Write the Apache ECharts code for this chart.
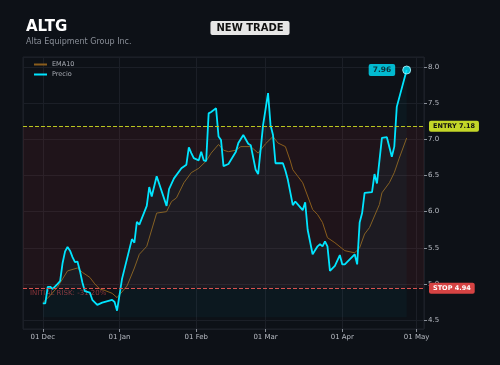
<!DOCTYPE html>
<html>
<head>
<meta charset="utf-8">
<script src="https://cdn.jsdelivr.net/npm/echarts@6/dist/echarts.min.js"></script>
<style>
  html, body { margin: 0; padding: 0; background: #0d1117; }
  #chart { width: 500px; height: 365px; }
</style>
</head>
<body>
<div id="chart"></div>
<script>
// datos
var ticker = 'ALTG';
var company = 'Alta Equipment Group Inc.';
var ENTRY = 7.18;
var STOP = 4.94;

var priceDates = [
  '2025-12-01','2025-12-02','2025-12-03','2025-12-04','2025-12-05','2025-12-07','2025-12-08','2025-12-09',
  '2025-12-10','2025-12-11','2025-12-12','2025-12-13','2025-12-14','2025-12-15','2025-12-16','2025-12-17',
  '2025-12-18','2025-12-20','2025-12-21','2025-12-23','2025-12-25','2025-12-29','2025-12-30','2025-12-31',
  '2026-01-02','2026-01-06','2026-01-07','2026-01-08','2026-01-09','2026-01-12','2026-01-13','2026-01-14',
  '2026-01-16','2026-01-20','2026-01-21','2026-01-23','2026-01-26','2026-01-28','2026-01-29','2026-01-30',
  '2026-01-31','2026-02-02','2026-02-03','2026-02-04','2026-02-05','2026-02-06','2026-02-07','2026-02-09',
  '2026-02-10','2026-02-11','2026-02-12','2026-02-14','2026-02-17','2026-02-18','2026-02-20','2026-02-22',
  '2026-02-23','2026-02-25','2026-02-26','2026-02-28','2026-03-02','2026-03-03','2026-03-04','2026-03-05',
  '2026-03-08','2026-03-09','2026-03-10','2026-03-12','2026-03-13','2026-03-14','2026-03-16','2026-03-17',
  '2026-03-18','2026-03-20','2026-03-22','2026-03-23','2026-03-24','2026-03-25','2026-03-26','2026-03-27',
  '2026-03-29','2026-03-31','2026-04-01','2026-04-02','2026-04-04','2026-04-06','2026-04-07','2026-04-08',
  '2026-04-09','2026-04-10','2026-04-13','2026-04-14','2026-04-15','2026-04-17','2026-04-19','2026-04-21',
  '2026-04-22','2026-04-23','2026-04-27'
];
var priceValues = [
  4.73, 4.73, 4.96, 4.96, 4.93, 5.00, 5.04, 5.29,
  5.45, 5.51, 5.46, 5.37, 5.30, 5.31, 5.18, 5.02,
  4.90, 4.88, 4.78, 4.71, 4.74, 4.78, 4.75, 4.63,
  5.07, 5.62, 5.57, 5.86, 5.82, 6.08, 6.34, 6.21,
  6.49, 6.08, 6.31, 6.46, 6.60, 6.65, 6.89, 6.81,
  6.74, 6.71, 6.83, 6.71, 6.70, 7.36, 7.38, 7.43,
  7.04, 6.99, 6.63, 6.66, 6.83, 6.95, 7.06, 6.94,
  6.92, 6.58, 6.52, 7.20, 7.64, 7.20, 7.06, 6.67,
  6.67, 6.57, 6.44, 6.09, 6.14, 6.10, 6.02, 6.13,
  5.75, 5.41, 5.52, 5.55, 5.52, 5.59, 5.52, 5.18,
  5.25, 5.40, 5.27, 5.27, 5.34, 5.41, 5.27, 5.85,
  5.98, 6.26, 6.27, 6.52, 6.39, 7.02, 7.03, 6.76,
  6.90, 7.45, 7.96
];

var emaDates = [
  '2025-12-01','2025-12-04','2025-12-07','2025-12-09','2025-12-11','2025-12-15','2025-12-17','2025-12-20',
  '2025-12-22','2025-12-24','2025-12-26','2025-12-29','2025-12-31','2026-01-04','2026-01-07','2026-01-09',
  '2026-01-12','2026-01-16','2026-01-20','2026-01-22','2026-01-24','2026-01-27','2026-01-30','2026-02-02',
  '2026-02-05','2026-02-07','2026-02-10','2026-02-12','2026-02-14','2026-02-17','2026-02-19','2026-02-23',
  '2026-02-26','2026-03-01','2026-03-04','2026-03-06','2026-03-09','2026-03-11','2026-03-12','2026-03-14',
  '2026-03-16','2026-03-20','2026-03-22','2026-03-24','2026-03-26','2026-03-29','2026-04-02','2026-04-06',
  '2026-04-08','2026-04-10','2026-04-12','2026-04-16','2026-04-17','2026-04-20','2026-04-22','2026-04-24',
  '2026-04-27'
];
var emaValues = [
  4.74, 4.84, 4.96, 5.07, 5.18, 5.22, 5.16, 5.09,
  5.00, 4.93, 4.91, 4.87, 4.81, 4.97, 5.22, 5.41,
  5.52, 5.98, 6.00, 6.14, 6.19, 6.40, 6.54, 6.60,
  6.70, 6.81, 6.93, 6.85, 6.83, 6.85, 6.90, 6.90,
  6.81, 6.94, 7.04, 6.95, 6.90, 6.70, 6.58, 6.49,
  6.40, 6.03, 5.96, 5.85, 5.64, 5.57, 5.46, 5.43,
  5.50, 5.69, 5.78, 6.10, 6.26, 6.40, 6.54, 6.74,
  7.02
];

var monthNames = ['Jan','Feb','Mar','Apr','May','Jun','Jul','Aug','Sep','Oct','Nov','Dec'];

var chart = echarts.init(document.getElementById('chart'), null, { renderer: 'canvas' });

var priceData = priceDates.map(function (d, i) { return [d, priceValues[i]]; });
var emaData = emaDates.map(function (d, i) { return [d, emaValues[i]]; });
var last = priceData[priceData.length - 1];
var risk = ((STOP - ENTRY) / ENTRY * 100).toFixed(2);

var option = {
  backgroundColor: '#0d1117',
  textStyle: { fontFamily: 'DejaVu Sans' },
  animation: false,
  title: [{
    text: ticker,
    subtext: company,
    left: 26,
    top: 20,
    padding: 0,
    itemGap: 3,
    textStyle: { color: '#ffffff', fontSize: 15, fontWeight: 'bold' },
    subtextStyle: { color: '#8a8f98', fontSize: 8 }
  }, {
    text: 'NEW TRADE',
    left: 'center',
    top: 21,
    padding: [2, 6],
    backgroundColor: '#e6e6e6',
    borderRadius: 2,
    textStyle: { color: '#111111', fontSize: 10, fontWeight: 'bold' }
  }],
  legend: {
    data: ['EMA10', 'Precio'],
    orient: 'vertical',
    left: 29,
    top: 56,
    itemGap: 3,
    itemWidth: 13,
    itemHeight: 2,
    icon: 'rect',
    textStyle: { color: '#a9adb5', fontSize: 6.5 }
  },
  grid: {
    left: 23,
    right: 76,
    top: 57,
    bottom: 36,
    show: true,
    borderColor: '#1f232b',
    borderWidth: 1
  },
  xAxis: {
    type: 'time',
    min: '2025-11-23',
    max: '2026-05-04',
    minInterval: 28 * 86400000,
    maxInterval: 31 * 86400000,
    axisLine: { show: false },
    axisTick: { show: true, length: 3, lineStyle: { color: '#8a8f98' } },
    axisLabel: {
      color: '#b8bcc4',
      fontSize: 7,
      margin: 5,
      showMinLabel: false,
      showMaxLabel: false,
      formatter: function (value) {
        var d = new Date(value);
        var day = d.getDate();
        return (day < 10 ? '0' + day : day) + ' ' + monthNames[d.getMonth()];
      }
    },
    splitLine: { show: true, lineStyle: { color: '#1b1f27', width: 1 } }
  },
  yAxis: {
    type: 'value',
    position: 'right',
    min: 4.376,
    max: 8.14,
    splitNumber: 7,
    axisLine: { show: false },
    axisTick: { show: true, length: 3, lineStyle: { color: '#8a8f98' } },
    axisLabel: {
      color: '#b8bcc4',
      fontSize: 7,
      margin: 4,
      showMinLabel: false,
      showMaxLabel: false,
      formatter: function (v) {
        if (Math.abs(v * 2 - Math.round(v * 2)) > 1e-6) return '';
        return v.toFixed(1);
      }
    },
    splitLine: { show: true, lineStyle: { color: '#1b1f27', width: 1 } }
  },
  graphic: [{
    type: 'text',
    left: 30,
    top: 290,
    z: 0,
    style: {
      text: 'INITIAL RISK: ' + risk + '%',
      fill: '#8e353b',
      font: '7px "DejaVu Sans"'
    }
  }],
  series: [{
    name: 'EMA10',
    type: 'line',
    data: emaData,
    symbol: 'none',
    z: 3,
    lineStyle: { color: '#8a5d1c', width: 1 },
    itemStyle: { color: '#8a5d1c' }
  }, {
    name: 'Precio',
    type: 'line',
    data: priceData,
    symbol: 'none',
    z: 4,
    lineStyle: { color: '#00e5ff', width: 1.8 },
    itemStyle: { color: '#00e5ff' },
    areaStyle: { color: 'rgba(0,229,255,0.05)', origin: 4.54 },
    markArea: {
      silent: true,
      itemStyle: { color: 'rgba(255,68,68,0.08)' },
      data: [[{ yAxis: STOP }, { yAxis: ENTRY }]]
    },
    markLine: {
      silent: true,
      symbol: 'none',
      data: [{
        yAxis: ENTRY,
        lineStyle: { color: '#b9c61f', type: [4, 2], width: 1.2 },
        label: {
          position: 'end',
          distance: 5,
          formatter: 'ENTRY ' + ENTRY.toFixed(2),
          color: '#111111',
          fontSize: 6.5,
          fontWeight: 'bold',
          backgroundColor: '#c3d628',
          padding: [2, 4],
          borderRadius: 2
        }
      }, {
        yAxis: STOP,
        lineStyle: { color: '#d9534f', type: [4, 2], width: 1 },
        label: {
          position: 'end',
          distance: 5,
          formatter: 'STOP ' + STOP.toFixed(2),
          color: '#ffffff',
          fontSize: 6.5,
          fontWeight: 'bold',
          backgroundColor: '#d64343',
          padding: [2, 4],
          borderRadius: 2
        }
      }]
    }
  }, {
    // ultimo precio
    name: 'last',
    type: 'scatter',
    data: [last],
    symbol: 'circle',
    symbolSize: 8,
    z: 5,
    itemStyle: { color: '#00e5ff', borderColor: '#b5f7ff', borderWidth: 1 },
    label: {
      show: true,
      position: 'left',
      distance: 7,
      formatter: function (p) { return p.value[1].toFixed(2); },
      color: '#0d1117',
      fontSize: 7.5,
      fontWeight: 'bold',
      backgroundColor: '#00e5ff',
      padding: [2, 4],
      borderRadius: 2
    }
  }]
};

chart.setOption(option);
</script>
</body>
</html>
